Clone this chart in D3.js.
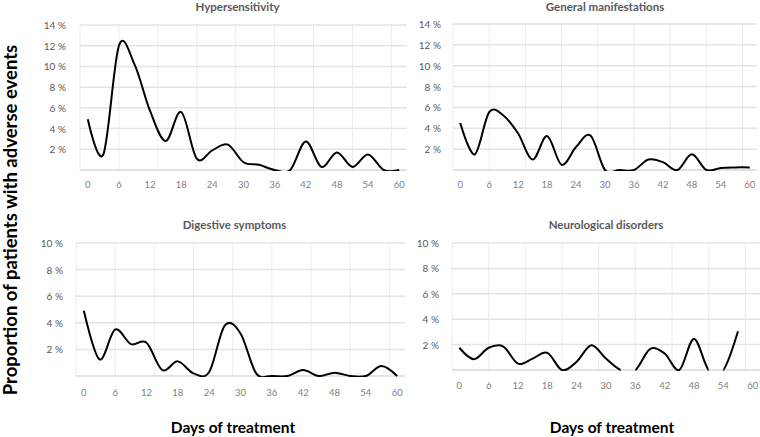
<!DOCTYPE html>
<html>
<head>
<meta charset="utf-8">
<script src="https://cdn.jsdelivr.net/npm/d3@7"></script>
<style>
  body { margin: 0; background: #fff; }
  text { font-family: Lato, "Open Sans", sans-serif; }
</style>
</head>
<body>
<div id="chart"></div>
<script>
// days on the category axis (every 3 days)
const days = [0, 3, 6, 9, 12, 15, 18, 21, 24, 27, 30, 33, 36, 39, 42, 45, 48, 51, 54, 57, 60];

// proportion of patients (%)
const hypersensitivity = [4.9, 1.5, 12.0, 10.2, 5.7, 2.8, 5.6, 1.1, 1.9, 2.45, 0.75, 0.5, 0, 0, 2.75, 0.3, 1.7, 0.3, 1.5, 0, 0];
const generalManifestations = [4.5, 1.5, 5.55, 5.2, 3.5, 1.0, 3.25, 0.5, 2.2, 3.3, 0, 0, 0, 1.0, 0.75, 0, 1.5, 0, 0.2, 0.25, 0.25];
const digestiveSymptoms = [4.9, 1.25, 3.5, 2.4, 2.5, 0.45, 1.1, 0.2, 0.3, 3.8, 3.2, 0.2, 0, 0, 0.45, 0, 0.25, 0, 0, 0.75, 0];
const neurologicalDisorders = [1.75, 0.85, 1.75, 1.85, 0.5, 0.9, 1.35, 0, 0.65, 1.95, 0.9, 0, 0, 1.65, 1.3, 0, 2.45, 0, 0, 3.05, null];
// stretches where the neurological line is not drawn
const neuroGaps = [[33, 36], [51, 54]];

const xTickDays = [0, 6, 12, 18, 24, 30, 36, 42, 48, 54, 60];
const gridDays = [-1.5, 6, 13.5, 21, 28.5, 36, 43.5, 51, 58.5];
const yTicksTop = [2, 4, 6, 8, 10, 12, 14];
const yTicksBottom = [2, 4, 6, 8, 10];

const width = 760, height = 437;

const panels = [
  { title: "Hypersensitivity", values: hypersensitivity, yMax: 14, yTicks: yTicksTop,
    left: 80, right: 407, top: 25, bottom: 170, titleY: 11, tickY: 188, labelX: 66 },
  { title: "General manifestations", values: generalManifestations, yMax: 14, yTicks: yTicksTop,
    left: 453, right: 757, top: 24, bottom: 170, titleY: 11, tickY: 188, labelX: 441 },
  { title: "Digestive symptoms", values: digestiveSymptoms, yMax: 10, yTicks: yTicksBottom,
    left: 76, right: 405, top: 243, bottom: 376, titleY: 229, tickY: 396, labelX: 63 },
  { title: "Neurological disorders", values: neurologicalDisorders, yMax: 10, yTicks: yTicksBottom,
    left: 452, right: 760, top: 243, bottom: 370, titleY: 229, tickY: 389, labelX: 439, gaps: neuroGaps },
];

const svg = d3.select("#chart")
  .append("svg")
  .attr("width", width)
  .attr("height", height);

panels.forEach((p, i) => {
  const x = d3.scaleLinear().domain([-1.5, 61.5]).range([p.left, p.right]);
  const y = d3.scaleLinear().domain([0, p.yMax]).range([p.bottom, p.top]);
  const g = svg.append("g");

  // vertical grid
  g.selectAll(".vgrid")
    .data(gridDays)
    .join("line")
    .attr("x1", (d) => x(d)).attr("x2", (d) => x(d))
    .attr("y1", p.top).attr("y2", p.bottom)
    .attr("stroke", "#ececec")
    .attr("stroke-width", 1);

  // horizontal grid + baseline
  g.selectAll(".hgrid")
    .data([0].concat(p.yTicks))
    .join("line")
    .attr("x1", p.left).attr("x2", p.right)
    .attr("y1", (d) => y(d)).attr("y2", (d) => y(d))
    .attr("stroke", (d) => (d === 0 ? "#d9d9d9" : "#e3e3e3"))
    .attr("stroke-width", 1.5);

  // y tick labels
  g.selectAll(".ylab")
    .data(p.yTicks)
    .join("text")
    .attr("x", p.labelX)
    .attr("y", (d) => y(d) + 4)
    .attr("text-anchor", "end")
    .attr("font-size", 10)
    .attr("fill", "#595959")
    .text((d) => d + " %");

  // x tick labels
  g.selectAll(".xlab")
    .data(xTickDays)
    .join("text")
    .attr("x", (d) => x(d))
    .attr("y", p.tickY)
    .attr("text-anchor", "middle")
    .attr("font-size", 9.5)
    .attr("fill", "#7f7f7f")
    .text((d) => d);

  // panel title
  g.append("text")
    .attr("x", (p.left + p.right) / 2 + (i % 2 === 0 ? -6 : 0))
    .attr("y", p.titleY)
    .attr("text-anchor", "middle")
    .attr("font-size", 11.5)
    .attr("font-weight", "bold")
    .attr("fill", "#595959")
    .text(p.title);

  // clip to plot area, minus any gaps
  const clip = svg.append("clipPath").attr("id", "clip" + i);
  const cuts = [-1.5].concat(...(p.gaps || [])).concat([61.5]);
  for (let k = 0; k < cuts.length; k += 2) {
    clip.append("rect")
      .attr("x", x(cuts[k]))
      .attr("y", p.top - 5)
      .attr("width", x(cuts[k + 1]) - x(cuts[k]))
      .attr("height", p.bottom - p.top + 6);
  }

  const line = d3.line()
    .defined((d) => d.v !== null)
    .x((d) => x(d.day))
    .y((d) => y(d.v))
    .curve(d3.curveCardinal.tension(0));

  g.append("path")
    .datum(days.map((d, k) => ({ day: d, v: p.values[k] })))
    .attr("clip-path", `url(#clip${i})`)
    .attr("d", line)
    .attr("fill", "none")
    .attr("stroke", "#000")
    .attr("stroke-width", 2);
});

// axis titles
svg.append("text")
  .attr("transform", "translate(17,220) rotate(-90)")
  .attr("text-anchor", "middle")
  .attr("font-size", 18.5)
  .attr("font-weight", "bold")
  .attr("fill", "#000")
  .text("Proportion of patients with adverse events");

[233, 612].forEach((cx) => {
  svg.append("text")
    .attr("x", cx)
    .attr("y", 433)
    .attr("text-anchor", "middle")
    .attr("font-size", 15.5)
    .attr("font-weight", "bold")
    .attr("fill", "#000")
    .text("Days of treatment");
});
</script>
</body>
</html>
